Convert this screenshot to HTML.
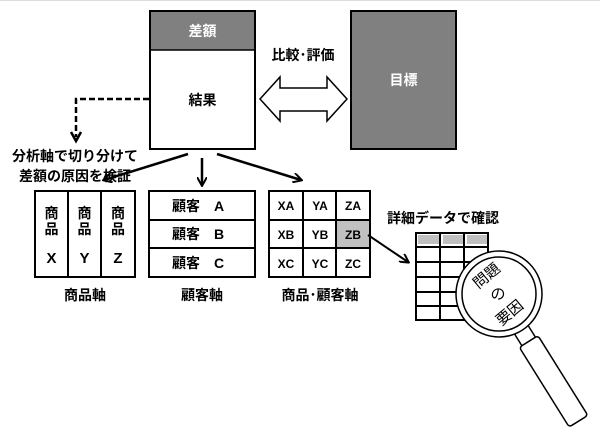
<!DOCTYPE html>
<html><head><meta charset="utf-8"><style>
html,body{margin:0;padding:0;background:#fff;}
svg{display:block;}
text{font-family:"Liberation Sans","Noto Sans CJK JP",sans-serif;}
</style></head><body>
<svg width="600" height="428" viewBox="0 0 600 428" xmlns="http://www.w3.org/2000/svg">
<defs>
<marker id="ah" markerWidth="10" markerHeight="10" refX="8" refY="5" orient="auto" markerUnits="userSpaceOnUse">
<path d="M0,0 L9,5 L0,10" fill="none" stroke="#000" stroke-width="2"/>
</marker>
</defs>
<line x1="0" y1="0.5" x2="600" y2="0.5" stroke="#ddd"/>
<rect x="150" y="11" width="105" height="138" fill="#fff" stroke="#000" stroke-width="2"/>
<rect x="151" y="12" width="103" height="38" fill="#808080"/>
<line x1="150" y1="50" x2="255" y2="50" stroke="#000" stroke-width="1.5"/>
<text x="202.5" y="36" font-size="14" font-weight="bold" fill="#fff" text-anchor="middle">差額</text>
<text x="202.5" y="105" font-size="14" font-weight="bold" text-anchor="middle">結果</text>
<rect x="351" y="11" width="105" height="138" fill="#808080" stroke="#000" stroke-width="2"/>
<text x="403.5" y="85" font-size="14" font-weight="bold" fill="#fff" text-anchor="middle">目標</text>
<path d="M260,99 L280,77 L280,88 L327,88 L327,77 L347,99 L327,121 L327,111 L280,111 L280,121 Z" fill="#fff" stroke="#000" stroke-width="1.5"/>
<text x="303" y="60" font-size="14" font-weight="bold" text-anchor="middle">比較･評価</text>
<path d="M149,99 L76,99 L76,137" fill="none" stroke="#000" stroke-width="2.5" stroke-dasharray="6,3"/>
<path d="M71,132 L76,141 L81,132" fill="none" stroke="#000" stroke-width="2.5"/>
<text x="75" y="161" font-size="14" font-weight="bold" text-anchor="middle">分析軸で切り分けて</text>
<text x="75" y="181" font-size="14" font-weight="bold" text-anchor="middle">差額の原因を検証</text>
<line x1="188" y1="154" x2="104" y2="180" stroke="#000" stroke-width="2.5" marker-end="url(#ah)"/>
<line x1="202" y1="158" x2="202" y2="185" stroke="#000" stroke-width="2.5" marker-end="url(#ah)"/>
<line x1="217" y1="154" x2="301" y2="180" stroke="#000" stroke-width="2.5" marker-end="url(#ah)"/>
<g stroke="#000" stroke-width="2" fill="none">
<rect x="35" y="191" width="100" height="86"/>
<line x1="68" y1="191" x2="68" y2="277"/><line x1="101" y1="191" x2="101" y2="277"/>
</g>
<g font-size="14" font-weight="bold" text-anchor="middle">
<text x="51.5" y="218">商</text><text x="51.5" y="234">品</text><text x="51.5" y="263" font-size="15">X</text>
<text x="84.5" y="218">商</text><text x="84.5" y="234">品</text><text x="84.5" y="263" font-size="15">Y</text>
<text x="118" y="218">商</text><text x="118" y="234">品</text><text x="118" y="263" font-size="15">Z</text>
</g>
<g stroke="#000" stroke-width="2" fill="none">
<rect x="149" y="191" width="106" height="86"/>
<line x1="149" y1="220" x2="255" y2="220"/><line x1="149" y1="248" x2="255" y2="248"/>
</g>
<g font-size="14" font-weight="bold">
<text x="172" y="211">顧客　A</text><text x="172" y="239">顧客　B</text><text x="172" y="268">顧客　C</text>
</g>
<rect x="337" y="220" width="33" height="28" fill="#c0c0c0"/>
<g stroke="#000" stroke-width="2" fill="none">
<rect x="269" y="191" width="101" height="86"/>
<line x1="303" y1="191" x2="303" y2="277"/><line x1="336" y1="191" x2="336" y2="277"/>
<line x1="269" y1="220" x2="370" y2="220"/><line x1="269" y1="248" x2="370" y2="248"/>
</g>
<g font-size="12" font-weight="bold" text-anchor="middle">
<text x="286" y="210">XA</text><text x="320" y="210">YA</text><text x="353" y="210">ZA</text>
<text x="286" y="239">XB</text><text x="320" y="239">YB</text><text x="353" y="239">ZB</text>
<text x="286" y="268">XC</text><text x="320" y="268">YC</text><text x="353" y="268">ZC</text>
</g>
<g font-size="14" font-weight="bold" text-anchor="middle">
<text x="85" y="300">商品軸</text><text x="202" y="300">顧客軸</text><text x="320" y="300">商品･顧客軸</text>
<text x="443" y="223">詳細データで確認</text>
</g>
<line x1="368" y1="235" x2="408" y2="262" stroke="#000" stroke-width="2" marker-end="url(#ah)"/>
<g fill="#c0c0c0"><rect x="418" y="235" width="21" height="9"/><rect x="443" y="235" width="20" height="9"/><rect x="467" y="235" width="20" height="9"/></g>
<g stroke="#000" stroke-width="2" fill="none">
<rect x="416" y="233" width="72" height="87"/>
<line x1="440" y1="233" x2="440" y2="320"/><line x1="464" y1="233" x2="464" y2="320"/>
<line x1="416" y1="247" x2="488" y2="247"/><line x1="416" y1="262" x2="488" y2="262"/><line x1="416" y1="277" x2="488" y2="277"/><line x1="416" y1="292" x2="488" y2="292"/><line x1="416" y1="306" x2="488" y2="306"/>
</g>
<g transform="translate(499,294) rotate(-32)">
<rect x="-8" y="42" width="16" height="14" fill="#fff" stroke="#000" stroke-width="1.5"/>
<rect x="-11" y="56" width="22" height="94" rx="3" fill="#fff" stroke="#000" stroke-width="1.5"/>
</g>
<circle cx="499" cy="294" r="43" fill="#fff" stroke="#000" stroke-width="1.5"/>
<circle cx="499" cy="294" r="37" fill="#fff" stroke="#000" stroke-width="1.5"/>
<g font-size="15" text-anchor="middle">
<text x="486" y="281" transform="rotate(-40 486 275)">問題</text>
<text x="498" y="299">の</text>
<text x="509" y="318" transform="rotate(-40 509 312)">要因</text>
</g>
</svg>
</body></html>
